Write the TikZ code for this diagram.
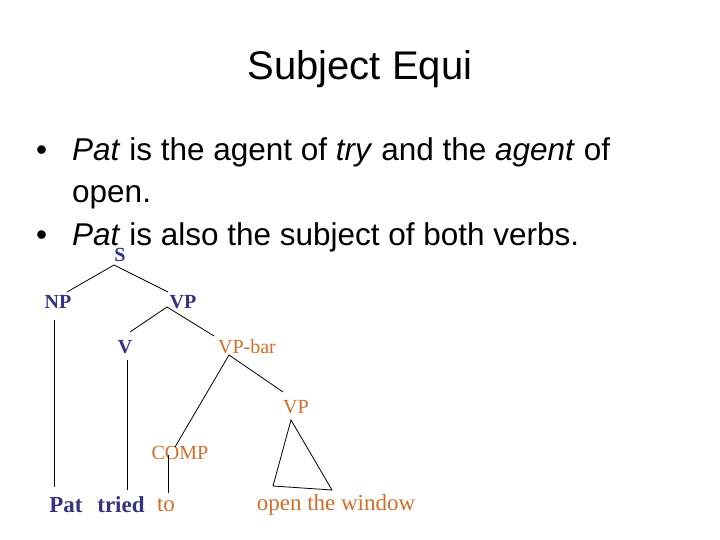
\documentclass[tikz,border=0pt]{standalone}
\usepackage{fontspec}
\setmainfont{Liberation Serif}
\newfontfamily\arial{Liberation Sans}
\definecolor{nblue}{RGB}{51,51,130}
\definecolor{norange}{RGB}{210,110,40}
\begin{document}
\begin{tikzpicture}[x=1pt,y=-1pt,
  bl/.style={text=nblue,font=\fontsize{20}{22}\selectfont\bfseries,inner sep=0pt},
  orl/.style={text=norange,font=\fontsize{20}{22}\selectfont,inner sep=0pt},
  bw/.style={text=nblue,font=\fontsize{23}{26}\selectfont\bfseries,inner sep=0pt},
  ow/.style={text=norange,font=\fontsize{23}{26}\selectfont,inner sep=0pt},
  bt/.style={font=\arial\fontsize{31.5}{36}\selectfont,anchor=base west,inner sep=0pt},
  br/.style={line width=0.8pt}]
\useasboundingbox[fill=white] (0,0) rectangle (720,540);
\node[font=\arial\fontsize{40}{44}\selectfont] (title) at (360,69) {Subject Equi};
\node[bt] (d1) at (36,161) {•};
\node[bt] (b1) at (72,161) {\textit{Pat} is the agent of \textit{try} and the \textit{agent} of};
\node[bt] (b1b) at (72,203) {open.};
\node[bt] (d2) at (36,245) {•};
\node[bt] (b2) at (72,245) {\textit{Pat} is also the subject of both verbs.};
\node[bl] (S) at (120,255) {S};
\node[bl] (NP) at (58,302) {NP};
\node[bl] (VP) at (183,302) {VP};
\node[bl] (V) at (125,347) {V};
\node[orl] (VPbar) at (247,347) {VP-bar};
\node[orl] (VP2) at (296,407) {VP};
\node[orl] (COMP) at (180,453) {COMP};
\node[bw] (pat) at (66,505) {Pat};
\node[bw] (tried) at (121,505) {tried};
\node[ow] (to) at (166,505) {to};
\node[ow] (open) at (336,505) {open the window};
\coordinate (sb) at (114,265);
\draw[br] (sb) -- (67,292); \draw[br] (sb) -- (168,292);
\coordinate (vpb) at (167,307);
\draw[br] (vpb) -- (130,332); \draw[br] (vpb) -- (214,336);
\coordinate (vbb) at (229,355);
\draw[br] (vbb) -- (175,447); \draw[br] (vbb) -- (283,392);
\draw[br] (54,320) -- (54,487);
\draw[br] (127,360) -- (127,490);
\draw[br] (168,455) -- (168,493);
\draw[br] (291,420) -- (273,486) -- (332,490) -- cycle;
\end{tikzpicture}
\end{document}
